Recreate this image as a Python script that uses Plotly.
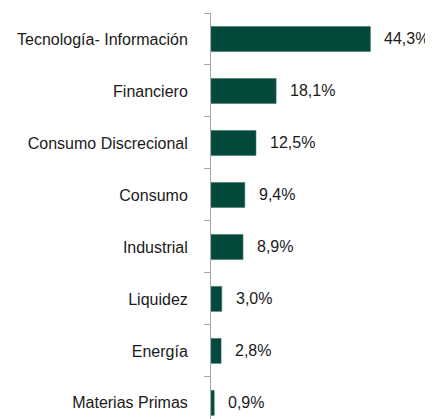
import plotly.graph_objects as go

categories = ["Tecnología- Información", "Financiero", "Consumo Discrecional", "Consumo",
              "Industrial", "Liquidez", "Energía", "Materias Primas"]
values = [44.3, 18.1, 12.5, 9.4, 8.9, 3.0, 2.8, 0.9]
value_labels = ["44,3%", "18,1%", "12,5%", "9,4%", "8,9%", "3,0%", "2,8%", "0,9%"]

BAR = "#02483B"
FONT = "Liberation Sans, Arial, sans-serif"

fig = go.Figure()
fig.add_trace(go.Bar(
    y=categories, x=values, orientation="h",
    marker=dict(color=BAR, line=dict(color="#3f7a6c", width=0.6)),
    width=0.48, hoverinfo="skip",
))

for c, v, t in zip(categories, values, value_labels):
    fig.add_annotation(x=v, y=c, text=t, showarrow=False, xanchor="left",
                       xshift=12, font=dict(family=FONT, size=16, color="#1a1a1a"))

fig.update_layout(
    width=425, height=411,
    margin=dict(l=203, r=0, t=5, b=0),
    paper_bgcolor="white", plot_bgcolor="white",
    showlegend=False,
    font=dict(family=FONT, size=16, color="#1a1a1a"),
    xaxis=dict(range=[0, 61.7], visible=False, fixedrange=True),
    yaxis=dict(type="category", categoryorder="array", categoryarray=categories,
               range=[7.31, -0.5], showline=True, linecolor="#A6A6A6", linewidth=1,
               ticks="outside", tickson="boundaries", ticklen=6, tickcolor="#A6A6A6",
               ticklabelstandoff=19, showgrid=False, zeroline=False, automargin=False,
               tickfont=dict(family=FONT, size=16, color="#1a1a1a")),
)
fig.write_html("out.html")
